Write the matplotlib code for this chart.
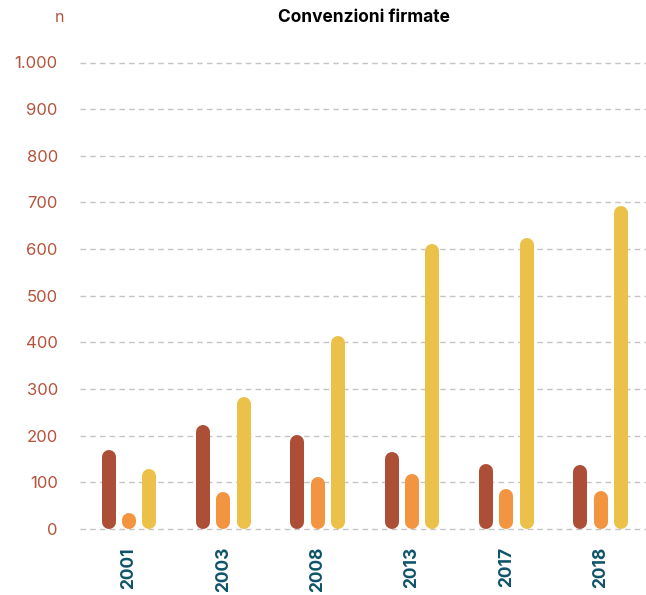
import matplotlib
matplotlib.use("Agg")
import matplotlib.pyplot as plt
import numpy as np

years = ["2001", "2003", "2008", "2013", "2017", "2018"]
serie_a = [169, 223, 201, 166, 140, 137]
serie_b = [35, 80, 111, 118, 85, 81]
serie_c = [128, 283, 414, 610, 624, 692]
yticks = [0, 100, 200, 300, 400, 500, 600, 700, 800, 900, 1000]
ytick_labels = ["0", "100", "200", "300", "400", "500", "600", "700", "800", "900", "1.000"]

colors = ["#ad4e36", "#f39540", "#ecc149"]
tick_col = "#b5533c"
xlab_col = "#0e5468"

plt.rcParams["font.family"] = ["Inter", "DejaVu Sans"]

fig = plt.figure(figsize=(6.46, 5.95), dpi=100)
ax = fig.add_axes([80/646, 1-529/595, 566/646, (529-62.5)/595])
ax.set_xlim(-0.52, 5.48)
ax.set_ylim(0, 1000)

for s in ax.spines.values():
    s.set_visible(False)
ax.set_yticks(yticks)
ax.set_yticklabels(ytick_labels, color=tick_col, fontsize=12, fontweight="normal")
ax.tick_params(axis="y", length=0, pad=16)
ax.set_xticks(range(len(years)))
ax.set_xticklabels(years, rotation=90, color=xlab_col, fontsize=12.5, fontweight="bold")
ax.tick_params(axis="x", length=0, pad=13)
ax.grid(axis="y", color="#c4c4c4", linestyle=(0, (4, 3)), linewidth=1)
for gl in ax.get_ygridlines():
    gl.set_clip_on(False)
ax.set_axisbelow(True)

lw_px = 14
lw_pt = lw_px * 72 / fig.dpi
ax_h_px = ax.get_position().height * fig.get_figheight() * fig.dpi
r = (lw_px / 2) / ax_h_px * 1000
offs = [-0.215, 0.0, 0.215]
x = np.arange(len(years))
for series, off, c in zip([serie_a, serie_b, serie_c], offs, colors):
    for xi, v in zip(x, series):
        ax.plot([xi + off, xi + off], [r, max(v - r, r)], color=c, linewidth=lw_pt,
                solid_capstyle="round", clip_on=False, zorder=3)

fig.text(60/646, 1-17/595, "n", color=tick_col, fontsize=11.5, ha="center", va="center")
fig.text(364/646, 1-17/595, "Convenzioni firmate", color="black", fontsize=12.5,
         fontweight="bold", ha="center", va="center")

fig.savefig("out.png", dpi=100)
